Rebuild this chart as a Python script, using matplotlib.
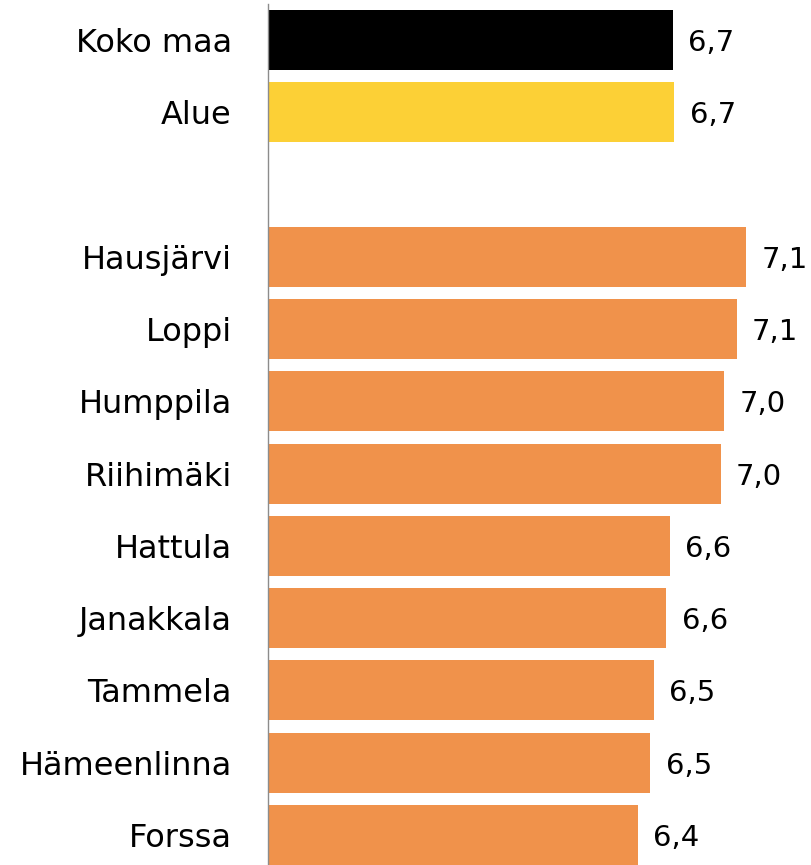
import matplotlib
matplotlib.use("Agg")
import matplotlib.pyplot as plt

# bar data, top to bottom (None = empty spacer row)
names = ["Koko maa", "Alue", "", "Hausjärvi", "Loppi", "Humppila", "Riihimäki",
         "Hattula", "Janakkala", "Tammela", "Hämeenlinna", "Forssa"]
values = [6.66, 6.67, None, 7.12, 7.06, 6.98, 6.96, 6.64, 6.62, 6.54, 6.52, 6.44]
colors = ["#000000", "#FCD036", None] + ["#F0924B"] * 9

fig = plt.figure(figsize=(8.11, 8.65), dpi=100)
ax = fig.add_axes([268 / 811, 0, 543 / 811, 1])

pos = list(range(len(names)))
for i, (v, c) in enumerate(zip(values, colors)):
    if v is None:
        continue
    ax.barh(i, v - 4.13, left=4.13, height=0.83, color=c)
    ax.annotate(f"{v:.1f}".replace(".", ","), (v, i), xytext=(11, 0),
                textcoords="offset points", va="center_baseline", ha="left",
                fontsize=21, color="#000000", annotation_clip=False)

ax.set_xlim(4.13, 7.524)
ax.set_ylim(11.415, -0.553)
ax.set_yticks(pos)
ax.set_yticklabels(names, fontsize=23)
for lbl in ax.get_yticklabels():
    lbl.set_va("center_baseline")
ax.tick_params(axis="y", length=0, pad=26)
ax.set_xticks([])
for s in ["top", "right", "bottom"]:
    ax.spines[s].set_visible(False)
ax.spines["left"].set_color("#8c8c8c")
ax.spines["left"].set_linewidth(1)
ax.spines["left"].set_bounds(11.415, -0.5)

fig.savefig("out.png", dpi=100)
